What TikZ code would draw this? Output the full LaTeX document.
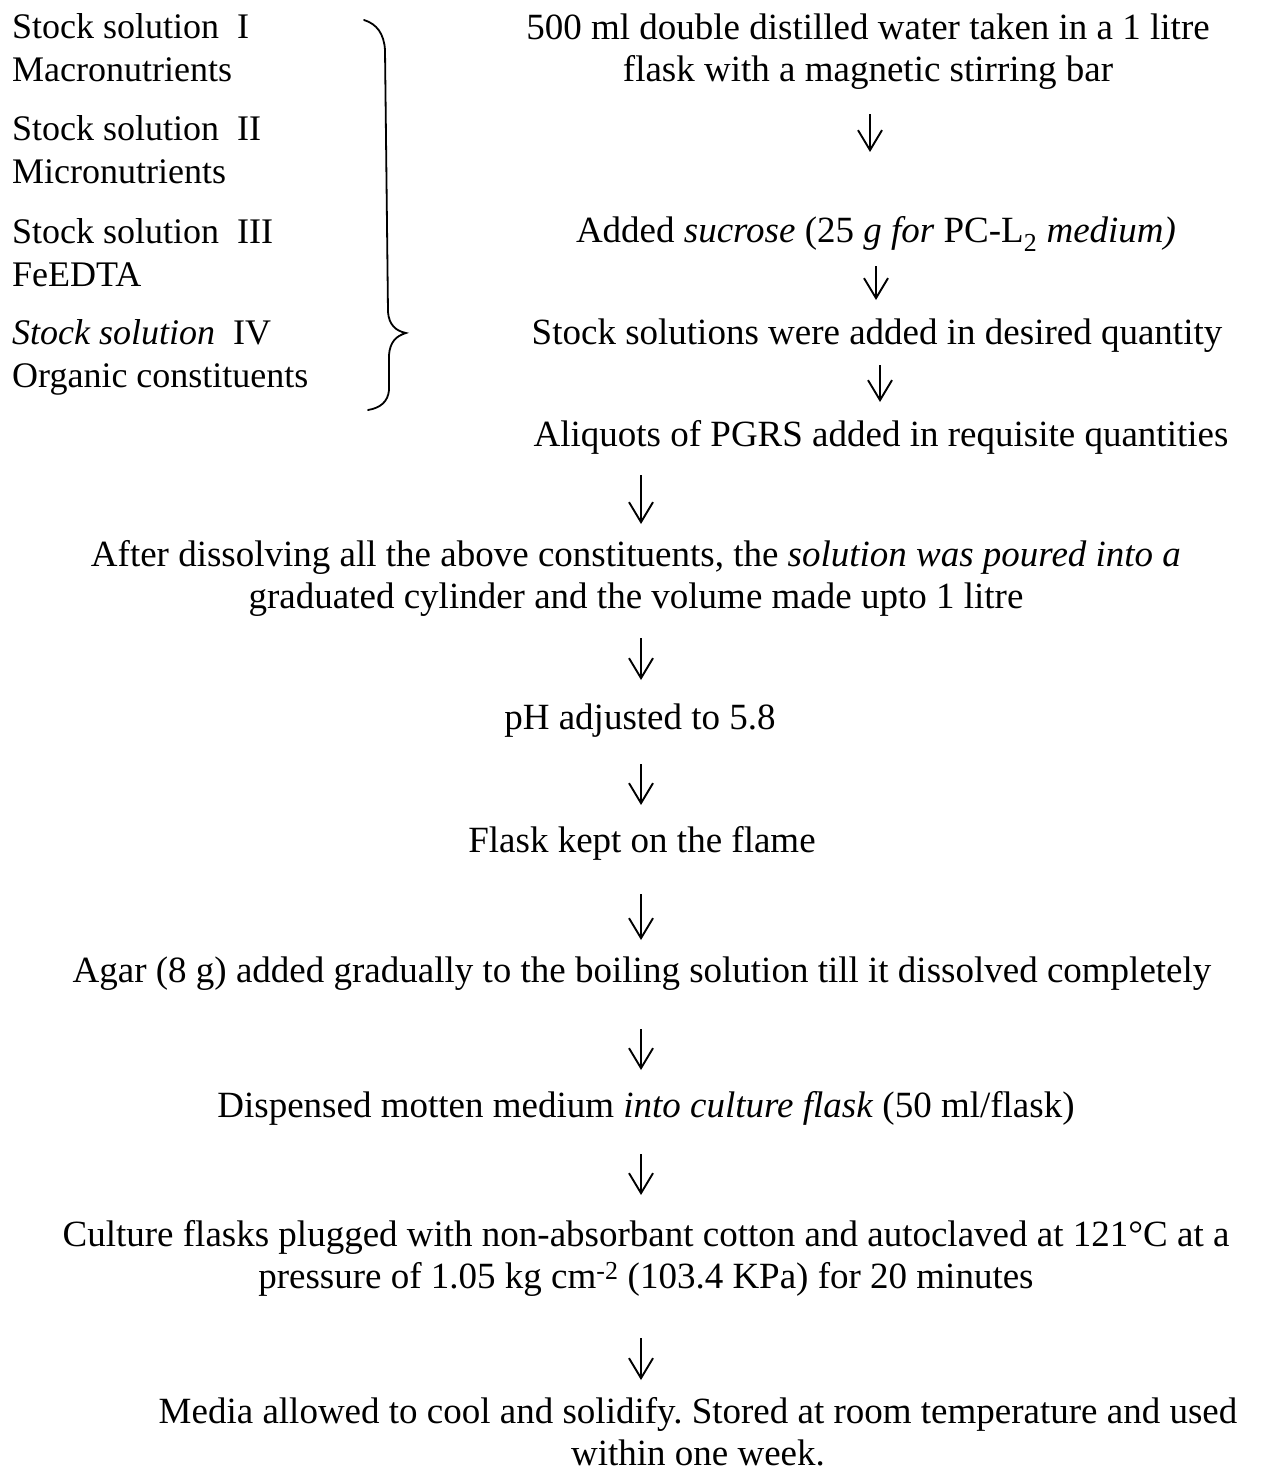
\documentclass[tikz,border=0pt]{standalone}
\usepackage{fontspec}
\setmainfont{Liberation Serif}
\usetikzlibrary{arrows.meta}
\frenchspacing
\begin{document}
\begin{tikzpicture}[x=1pt,y=-1pt,
  txt/.style={inner sep=0pt, font=\fontsize{37}{42}\selectfont, align=center, anchor=north},
  ltxt/.style={inner sep=0pt, font=\fontsize{36}{43}\selectfont, align=left, anchor=north west},
  arr/.style={line width=1.9pt, -{Straight Barb[length=20pt,width=24pt,line width=1.9pt]}},
  brace/.style={line width=1.8pt, line cap=round}]
\useasboundingbox[fill=white] (0,0) rectangle (1263,1474);
\newcommand{\sr}{\strut}
% left column
\node[ltxt] (s1) at (12,8) {\sr Stock solution~~I\\\sr Macronutrients};
\node[ltxt] (s2) at (12,110) {\sr Stock solution~~II\\\sr Micronutrients};
\node[ltxt] (s3) at (12,213) {\sr Stock solution~~III\\\sr FeEDTA};
\node[ltxt] (s4) at (12,314) {\sr \textit{Stock solution}~~IV\\\sr Organic constituents};
% brace
\draw[brace] (364,20) .. controls (377,24) and (384,34) .. (385,50) -- (388,312)
  .. controls (389,325) and (396,331) .. (406,333)
  .. controls (396,336) and (390,342) .. (389,355) -- (389,390)
  .. controls (388,402) and (380,408) .. (368,410);
% right column
\node[txt] (w1) at (868,10) {\sr 500 ml double distilled water taken in a 1 litre\\\sr flask with a magnetic stirring bar};
\node[txt] (su) at (876,213) {\sr Added \textit{sucrose} (25 \textit{g for} PC-L\textsubscript{2} \textit{medium)}};
\node[txt] (st) at (877,315) {\sr Stock solutions were added in desired quantity};
\node[txt] (al) at (881,417) {\sr Aliquots of PGRS added in requisite quantities};
% main column
\node[txt] (af) at (636,537) {\sr After dissolving all the above constituents, the \textit{solution was poured into a}\\\sr graduated cylinder and the volume made upto 1 litre};
\node[txt] (ph) at (640,700) {\sr pH adjusted to 5.8};
\node[txt] (fl) at (642,823) {\sr Flask kept on the flame};
\node[txt] (ag) at (642,953) {\sr Agar (8 g) added gradually to the boiling solution till it dissolved completely};
\node[txt] (di) at (646,1088) {\sr Dispensed motten medium \textit{into culture flask} (50 ml/flask)};
\node[txt] (cu) at (646,1217) {\sr Culture flasks plugged with non-absorbant cotton and autoclaved at 121\textdegree C at a\\\sr pressure of 1.05 kg cm\textsuperscript{-2} (103.4 KPa) for 20 minutes};
\node[txt] (me) at (698,1394) {\sr Media allowed to cool and solidify. Stored at room temperature and used\\\sr within one week.};
% arrow columns
\coordinate (c1) at (870,0);
\coordinate (c2) at (876,0);
\coordinate (c3) at (880,0);
\coordinate (c4) at (641,0);
% arrows
\draw[arr, shorten <=20pt, shorten >=61pt] (w1.south -| c1) -- (su.north -| c1);
\draw[arr, shorten <=11pt, shorten >=15pt] (su.south -| c2) -- (st.north -| c2);
\draw[arr, shorten <=8pt, shorten >=15pt] (st.south -| c3) -- (al.north -| c3);
\draw[arr, shorten <=16pt, shorten >=13pt] (al.south -| c4) -- (af.north -| c4);
\draw[arr, shorten <=17pt, shorten >=20pt] (af.south -| c4) -- (ph.north -| c4);
\draw[arr, shorten <=22pt, shorten >=18pt] (ph.south -| c4) -- (fl.north -| c4);
\draw[arr, shorten <=29pt, shorten >=13pt] (fl.south -| c4) -- (ag.north -| c4);
\draw[arr, shorten <=34pt, shorten >=18pt] (ag.south -| c4) -- (di.north -| c4);
\draw[arr, shorten <=24pt, shorten >=22pt] (di.south -| c4) -- (cu.north -| c4);
\draw[arr, shorten <=37pt, shorten >=14pt] (cu.south -| c4) -- (me.north -| c4);
\end{tikzpicture}
\end{document}
